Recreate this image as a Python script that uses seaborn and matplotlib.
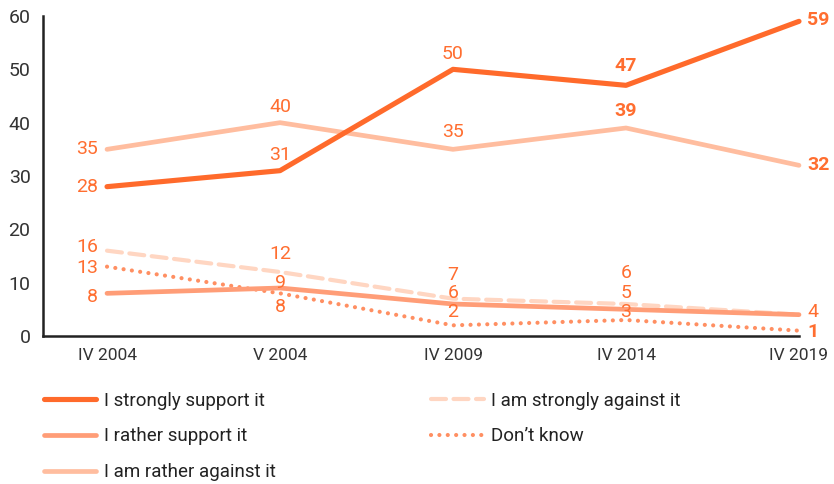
import matplotlib
matplotlib.use("Agg")
import matplotlib.pyplot as plt
import seaborn as sns
import pandas as pd

# survey waves and answer shares (%)
waves = ["IV 2004", "V 2004", "IV 2009", "IV 2014", "IV 2019"]
strongly_support = [28, 31, 50, 47, 59]
rather_support = [8, 9, 6, 5, 4]
rather_against = [35, 40, 35, 39, 32]
strongly_against = [16, 12, 7, 6, 4]
dont_know = [13, 8, 2, 3, 1]

series_names = ["I strongly support it", "I rather support it", "I am rather against it",
                "I am strongly against it", "Don\u2019t know"]
series_values = [strongly_support, rather_support, rather_against, strongly_against, dont_know]

sns.set_theme(style="white")
plt.rcParams["font.family"] = ["Roboto", "DejaVu Sans"]

colors = ["#ff6a2b", "#ff9d77", "#ffbd9f", "#ffd6c2", "#ff8f62"]
widths = [3.7, 3.4, 3.4, 3.0, 3.0]
styles = ["-", "-", "-", (0, (3.6, 1.8)), (0, (0.01, 2.0))]

label_color = "#ff6e30"

# per-label offsets (pixels) and alignment
label_layout = {
    0: [(-9, 0, "right"), (0, 16, "center"), (0, 15, "center"), (0, 19, "center"), (8, 1, "left")],
    1: [(-9, -4, "right"), (0, 5, "center"), (0, 11, "center"), (0, 16, "center"), None],
    2: [(-9, 0, "right"), (0, 16, "center"), (0, 17, "center"), (0, 17, "center"), (8, 0, "left")],
    3: [(-9, 4, "right"), (0, 18, "center"), (0, 24, "center"), (0, 31, "center"), (8, 3, "left")],
    4: [(-9, -1, "right"), (0, -14, "center"), (0, 13, "center"), (0, 8, "center"), (8, -1, "left")],
}
bold_labels = {(0, 3), (0, 4), (2, 3), (2, 4), (4, 4)}

fig = plt.figure(figsize=(8.34, 4.84), dpi=100)
ax = fig.add_axes([43 / 834, 1 - 336 / 484, (799 - 43) / 834, 320 / 484])

xs = list(range(len(waves)))
for i, (name, vals) in enumerate(zip(series_names, series_values)):
    df = pd.DataFrame({"wave": xs, "share": vals})
    sns.lineplot(data=df, x="wave", y="share", ax=ax, color=colors[i], linewidth=widths[i],
                 linestyle=styles[i], solid_capstyle="round", dash_capstyle="round",
                 label=name, clip_on=False, zorder=3 + (4 - i) * 0.1)
    for j, v in enumerate(vals):
        lay = label_layout[i][j]
        if lay is None:
            continue
        dx, dy, ha = lay
        ax.annotate(str(v), (xs[j], v), xytext=(dx, dy), textcoords="offset pixels",
                    ha=ha, va="center", fontsize=14, color=label_color,
                    fontweight="bold" if (i, j) in bold_labels else "normal", zorder=6)

ax.set_xlim(-0.37, 4)
ax.set_ylim(0, 60)
ax.set_xticks(xs)
ax.set_xticklabels(waves)
ax.set_yticks(range(0, 61, 10))
ax.set_xlabel("")
ax.set_ylabel("")
for s in ["top", "right"]:
    ax.spines[s].set_visible(False)
for s in ["left", "bottom"]:
    ax.spines[s].set_color("#222222")
    ax.spines[s].set_linewidth(1.8)
ax.tick_params(axis="both", direction="in", length=7.5, width=1.8, color="#222222")
ax.tick_params(axis="x", labelsize=12.5, labelcolor="#333333", pad=9)
ax.tick_params(axis="y", labelsize=14, labelcolor="#333333", pad=9, length=7.5)

h, l = ax.get_legend_handles_labels()
ax.get_legend().remove()
leg_kw = dict(loc="upper left", frameon=False, fontsize=13.5, handlelength=2.8,
              handletextpad=0.4, labelspacing=0.95, labelcolor="#222222", borderaxespad=0)
fig.legend(h[:3], l[:3], bbox_to_anchor=(36 / 834, 1 - 384 / 484), **leg_kw)
fig.legend(h[3:], l[3:], bbox_to_anchor=(424 / 834, 1 - 384 / 484), **leg_kw)

fig.savefig("out.png", dpi=100)
